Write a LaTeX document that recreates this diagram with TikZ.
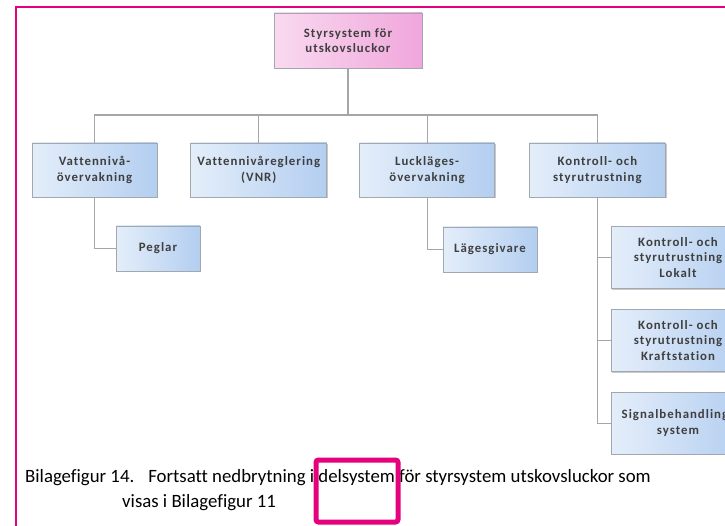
\documentclass[tikz,border=0pt]{standalone}
\usepackage{fontspec}
\setmainfont{Carlito}[Ligatures=CommonOff]
\newfontfamily\boxfont{Carlito}[LetterSpace=8, Ligatures=CommonOff]
\usetikzlibrary{positioning,shadows}
\definecolor{boxlight}{HTML}{E4EEFA}
\definecolor{boxdark}{HTML}{B3CEF0}
\definecolor{rootlight}{HTML}{F9DAF0}
\definecolor{rootdark}{HTML}{F0A6DB}
\definecolor{edgegray}{HTML}{A2A8B0}
\definecolor{linkgray}{HTML}{A6A6A6}
\definecolor{boxtext}{HTML}{3F3F3F}
\definecolor{magenta}{HTML}{E5007D}
\begin{document}
\begin{tikzpicture}[x=1pt, y=-1pt,
    box/.style={rectangle, draw=edgegray, line width=0.8pt, left color=boxlight, right color=boxdark,
      drop shadow={shadow xshift=1.3pt, shadow yshift=-1.3pt, opacity=0.35, fill=black!60},
      align=center, text=boxtext, font=\boxfont\bfseries\fontsize{12.8}{15.5}\selectfont,
      inner sep=2pt, minimum width=136pt, minimum height=54pt},
    rootbox/.style={box, left color=rootlight, right color=rootdark, minimum width=148pt, minimum height=55pt},
    leaf/.style={box, minimum height=45pt},
    tall/.style={box, minimum width=134pt, minimum height=62pt},
    link/.style={draw=linkgray, line width=1.2pt},
    caption/.style={anchor=base west, inner sep=0pt, text=black, font=\fontsize{18.8}{22}\selectfont},
    frame/.style={draw=magenta, line width=2.6pt},
    hilite/.style={draw=magenta, line width=5pt, rounded corners=2.5pt}]
    \useasboundingbox (0,0) rectangle (725,526);
    \clip (0,0) rectangle (725,526);
    \fill[white] (0,0) rectangle (725,526);
    \draw[frame] (16,7) rectangle (760,560);

    % tree
    \node[rootbox] (root) at (348,40.5) {Styrsystem för\\utskovsluckor};
    \node[box, minimum width=125pt] (niva) at (94.5,170) {Vattennivå-\\övervakning};
    \node[box] (vnr) [right=33pt of niva] {Vattennivåreglering\\(VNR)};
    \node[box, minimum width=135pt] (lucka) [right=32pt of vnr] {Luckläges-\\övervakning};
    \node[box] (kontroll) [right=34pt of lucka] {Kontroll- och\\styrutrustning};
    \node[leaf, minimum width=84pt] (peglar) at (158,248.5) {Peglar};
    \node[leaf, minimum width=94pt] (givare) at (490,249.5) {Lägesgivare};
    \node[tall] (lokalt) at (678,257.5) {Kontroll- och\\styrutrustning\\Lokalt};
    \node[tall] (kraft) [below=20pt of lokalt] {Kontroll- och\\styrutrustning\\Kraftstation};
    \node[tall] (signal) [below=20pt of kraft] {Signalbehandlings\\system};
    \coordinate (bus) at (348,115);

    \foreach \b in {niva,vnr,lucka,kontroll}
        \draw[link] (root.south) -- (bus) -| (\b.north);
    \draw[link] (niva.south) |- (peglar.west);
    \draw[link] (lucka.south) |- (givare.west);
    \foreach \b in {lokalt,kraft,signal}
        \draw[link] (kontroll.south) |- (\b.west);

    % caption
    \node[caption] (cap1) at (25,482) {Bilagefigur 14.\hspace{14pt}Fortsatt nedbrytning i delsystem för styrsystem utskovsluckor som};
    \node[caption] (cap2) at (122,507) {visas i Bilagefigur 11};
    \draw[hilite] (316,460) rectangle (398,522);
\end{tikzpicture}
\end{document}
